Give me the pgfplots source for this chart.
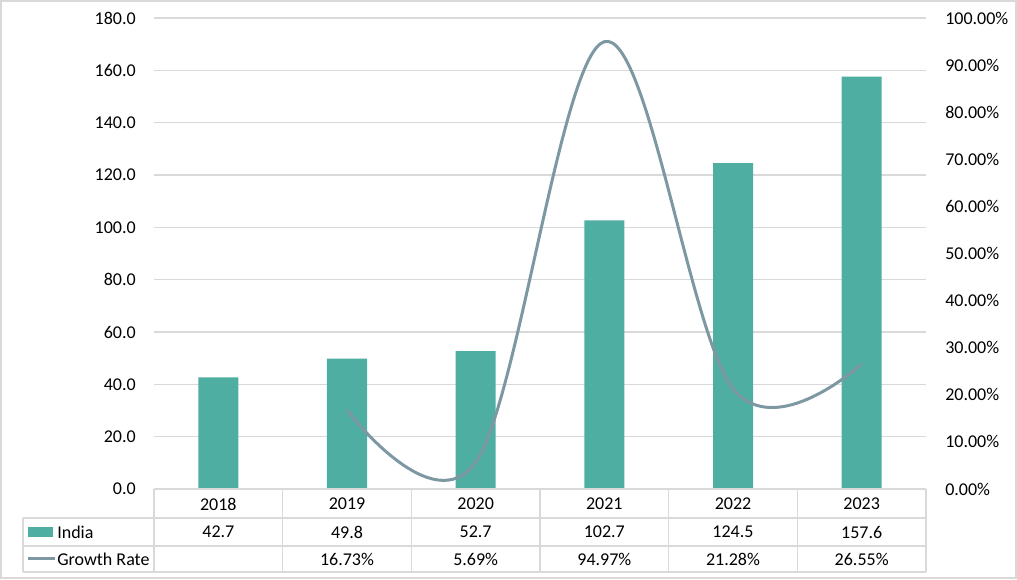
\documentclass[border=0pt]{standalone}
\usepackage{pgfplots}
\pgfplotsset{compat=1.18}
\usepackage{fontspec}
\setmainfont{Carlito}
\definecolor{barc}{HTML}{4FAEA2}
\definecolor{lnc}{HTML}{7D98A3}
\definecolor{gridc}{HTML}{D9D9D9}
\begin{document}
\fontsize{13.5pt}{16pt}\selectfont
\begin{tikzpicture}[x=0.75pt,y=0.75pt]
\path[use as bounding box] (-154,-91) rectangle (863,489);
\draw[gridc, line width=1.5pt] (-153,-89) rectangle (862,488);
\begin{axis}[
  at={(0,0)}, anchor=south west, scale only axis,
  width=579pt, height=353.25pt,
  xmin=-0.5, xmax=5.5, ymin=0, ymax=180,
  xtick=\empty, ytick distance=20,
  axis line style={draw=none}, major tick length=0pt,
  ymajorgrids, grid style={gridc, line width=1.1pt},
  /pgf/number format/assume math mode=true,
  yticklabel={\pgfmathprintnumber[fixed,fixed zerofill,precision=1]{\tick}},
  yticklabel style={inner sep=0pt, anchor=east, xshift=-13.5pt, font=\fontsize{13.5pt}{16pt}\selectfont},
  clip=false,
]
\addplot[ybar, bar width=30pt, fill=barc, draw=none] coordinates {
  (0,42.7) (1,49.8) (2,52.7) (3,102.7) (4,124.5) (5,157.6)};
% data table text
\node at (axis cs:0,0) [yshift=-11.25pt] {2018};
\node at (axis cs:1,0) [yshift=-11.25pt] {2019};
\node at (axis cs:2,0) [yshift=-11.25pt] {2020};
\node at (axis cs:3,0) [yshift=-11.25pt] {2021};
\node at (axis cs:4,0) [yshift=-11.25pt] {2022};
\node at (axis cs:5,0) [yshift=-11.25pt] {2023};
\node at (axis cs:0,0) [yshift=-32.25pt] {42.7};
\node at (axis cs:1,0) [yshift=-32.25pt] {49.8};
\node at (axis cs:2,0) [yshift=-32.25pt] {52.7};
\node at (axis cs:3,0) [yshift=-32.25pt] {102.7};
\node at (axis cs:4,0) [yshift=-32.25pt] {124.5};
\node at (axis cs:5,0) [yshift=-32.25pt] {157.6};
\node at (axis cs:1,0) [yshift=-52.5pt] {16.73\%};
\node at (axis cs:2,0) [yshift=-52.5pt] {5.69\%};
\node at (axis cs:3,0) [yshift=-52.5pt] {94.97\%};
\node at (axis cs:4,0) [yshift=-52.5pt] {21.28\%};
\node at (axis cs:5,0) [yshift=-52.5pt] {26.55\%};
\end{axis}
\begin{axis}[
  at={(0,0)}, anchor=south west, scale only axis,
  width=579pt, height=353.25pt,
  xmin=-0.5, xmax=5.5, ymin=0, ymax=100,
  xtick=\empty, ytick distance=10,
  axis y line*=right, axis x line=none,
  axis line style={draw=none}, major tick length=0pt,
  /pgf/number format/assume math mode=true,
  yticklabel={\pgfmathprintnumber[fixed,fixed zerofill,precision=2]{\tick}\%},
  yticklabel style={inner sep=0pt, anchor=west, xshift=14.25pt, font=\fontsize{13.5pt}{16pt}\selectfont},
  clip=false,
]
\addplot[lnc, line width=2.25pt, smooth, tension=0.6] coordinates {
  (1,16.73) (2,5.69) (3,94.97) (4,21.28) (5,26.55)};
\end{axis}
% table grid
\begin{scope}[gridc, line width=1.1pt]
\draw (0,0) -- (772,0);
\draw (-131,-29) -- (772,-29);
\draw (-131,-57) -- (772,-57);
\draw (-131,-83) -- (772,-83);
\draw (-131,-29) -- (-131,-83);
\foreach \k in {0,...,6} { \draw ({\k*128.667},0) -- ({\k*128.667},-83); }
\end{scope}
% legend keys
\fill[barc] (-126,-48) rectangle (-101,-38);
\node[anchor=west, inner sep=0pt] at (-97,-43) {India};
\draw[lnc, line width=2.25pt] (-126,-70) -- (-99,-70);
\node[anchor=west, inner sep=0pt] at (-97,-70) {Growth Rate};
\end{tikzpicture}
\end{document}
